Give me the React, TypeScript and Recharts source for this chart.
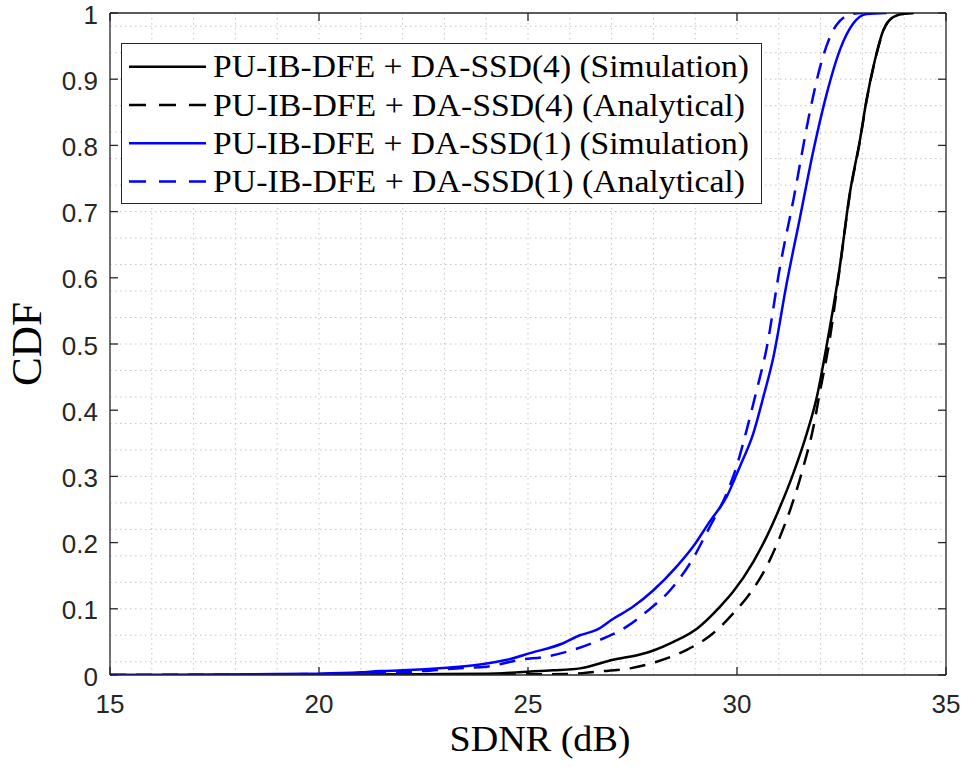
import { CartesianGrid, Label, Legend, Line, LineChart, ReferenceLine, XAxis, YAxis } from "recharts";

// DA-SSD(4), simulation (black solid)
const sim4X = [15, 18, 20, 22, 23, 24, 25, 25.6, 26.24, 27.04, 27.68, 28.0, 28.48, 29.04, 29.59, 29.91, 30.39, 30.71, 31.03, 31.35, 31.67, 31.91, 32.14, 32.46, 32.7, 32.94, 33.1, 33.3, 33.5, 33.74, 34.0, 34.22];
const sim4Y = [0, 0, 0.0005, 0.001, 0.0015, 0.002, 0.005, 0.007, 0.01, 0.023, 0.031, 0.037, 0.05, 0.07, 0.103, 0.126, 0.171, 0.209, 0.254, 0.305, 0.365, 0.42, 0.496, 0.617, 0.728, 0.808, 0.869, 0.929, 0.974, 0.994, 0.999, 1.0];

// DA-SSD(4), analytical (black dashed)
const ana4X = [15, 20, 22, 24, 25, 26.0, 26.64, 27.44, 28.08, 28.8, 29.43, 29.91, 30.31, 30.71, 31.03, 31.35, 31.59, 31.83, 31.99, 32.19, 32.46, 32.7, 32.94, 33.1, 33.3, 33.5, 33.74, 34.0, 34.22];
const ana4Y = [0, 0, 0.0002, 0.0005, 0.001, 0.0015, 0.005, 0.01, 0.02, 0.038, 0.063, 0.093, 0.123, 0.164, 0.209, 0.264, 0.315, 0.375, 0.43, 0.496, 0.615, 0.726, 0.806, 0.868, 0.928, 0.973, 0.994, 0.999, 1.0];

// DA-SSD(1), simulation (blue solid)
const sim1X = [15, 17, 19, 20, 21, 21.46, 22, 23.05, 23.85, 24.5, 25.05, 25.84, 26.24, 26.64, 27.04, 27.51, 28.0, 28.56, 28.95, 29.35, 29.75, 30.07, 30.39, 30.63, 30.87, 31.19, 31.51, 31.83, 32.15, 32.46, 32.78, 33.1, 33.58];
const sim1Y = [0, 0.0005, 0.0015, 0.002, 0.004, 0.006, 0.007, 0.011, 0.016, 0.023, 0.033, 0.048, 0.06, 0.068, 0.085, 0.103, 0.128, 0.164, 0.194, 0.232, 0.269, 0.315, 0.365, 0.42, 0.48, 0.592, 0.692, 0.793, 0.879, 0.944, 0.984, 0.9985, 1.0];

// DA-SSD(1), analytical (blue dashed)
const ana1X = [15, 17, 19, 20, 21, 21.46, 22.5, 23.29, 24.01, 24.81, 25.45, 26.08, 26.72, 27.36, 27.84, 28.4, 28.88, 29.35, 29.75, 29.99, 30.23, 30.47, 30.71, 31.03, 31.35, 31.75, 31.99, 32.38, 32.78, 33.0];
const ana1Y = [0, 0.0003, 0.001, 0.0015, 0.0025, 0.003, 0.006, 0.01, 0.0125, 0.023, 0.028, 0.038, 0.053, 0.073, 0.096, 0.128, 0.169, 0.224, 0.274, 0.315, 0.37, 0.43, 0.494, 0.617, 0.718, 0.853, 0.919, 0.982, 0.999, 1.0];

const xTicks = [15, 20, 25, 30, 35];
const yTicks = [0, 0.1, 0.2, 0.3, 0.4, 0.5, 0.6, 0.7, 0.8, 0.9, 1];
const yTickLabels = ["0", "0.1", "0.2", "0.3", "0.4", "0.5", "0.6", "0.7", "0.8", "0.9", "1"];

const legendLabels = [
  "PU-IB-DFE + DA-SSD(4) (Simulation)",
  "PU-IB-DFE + DA-SSD(4) (Analytical)",
  "PU-IB-DFE + DA-SSD(1) (Simulation)",
  "PU-IB-DFE + DA-SSD(1) (Analytical)",
];

const zip = (xs: number[], ys: number[]) => xs.map((x, i) => ({ x, y: ys[i] }));

const series = [
  { name: legendLabels[0], data: zip(sim4X, sim4Y), color: "#000000", dash: undefined as string | undefined },
  { name: legendLabels[1], data: zip(ana4X, ana4Y), color: "#000000", dash: "16 10" },
  { name: legendLabels[2], data: zip(sim1X, sim1Y), color: "#0000ff", dash: undefined },
  { name: legendLabels[3], data: zip(ana1X, ana1Y), color: "#0000ff", dash: "16 10" },
];

// grid every 1 dB and every 0.02
const gridX: number[] = [];
for (let v = 16; v < 35; v++) gridX.push(v);
const gridY: number[] = [];
for (let k = 1; k < 50; k++) gridY.push(k / 50);

const AXIS = "#262626";
const SERIF = "'Liberation Serif', 'DejaVu Serif', serif";
const SANS = "'Liberation Sans', Arial, sans-serif";
const TICK_X = 0.19; // ~8px in dB
const TICK_Y = 0.0121; // ~8px in CDF units

const XTick = (props: any) => (
  <text x={props.x} y={props.y + 18} textAnchor="middle" fontFamily={SANS} fontSize={26} fill={AXIS}>
    {props.payload.value}
  </text>
);

const YTick = (props: any) => (
  <text x={props.x} y={props.y + 10.5} textAnchor="end" fontFamily={SANS} fontSize={26} fill={AXIS}>
    {yTickLabels[yTicks.indexOf(props.payload.value)] ?? String(props.payload.value)}
  </text>
);

const renderLegend = () => (
  <svg width={641} height={161} style={{ display: "block" }}>
    <rect x={0.5} y={0.5} width={640} height={160} fill="#ffffff" stroke={AXIS} strokeWidth={1} />
    {series.map((s, i) => {
      const cy = 23.7 + i * 38.3;
      return (
        <g key={s.name}>
          <line x1={8} x2={85} y1={cy} y2={cy} stroke={s.color} strokeWidth={2.5} strokeDasharray={s.dash ? "17 13" : undefined} />
          <text
            x={92}
            y={cy + 10.5}
            fontFamily={SERIF}
            fontSize={30.5}
            fill="#000"
            textLength={i % 2 === 0 ? 536 : 532}
            lengthAdjust="spacingAndGlyphs"
          >
            {s.name}
          </text>
        </g>
      );
    })}
  </svg>
);

export default function App() {
  return (
    <div style={{ position: "absolute", left: 0, top: 0, width: 966, height: 767, background: "#fff" }}>
      <LineChart width={966} height={767} margin={{ top: 13, right: 20, bottom: 0, left: 0 }}>
        <CartesianGrid
          verticalValues={gridX}
          horizontalValues={gridY}
          stroke="#c6c6c6"
          strokeDasharray="1.5 3.5"
        />
        <XAxis
          type="number"
          dataKey="x"
          domain={[15, 35]}
          ticks={xTicks}
          allowDataOverflow
          height={92}
          tickLine={false}
          tickSize={8}
          tickMargin={12}
          axisLine={{ stroke: AXIS, strokeWidth: 1.3 }}
          tick={<XTick />}
        >
          <Label
            content={() => (
              <text x={540} y={751} textAnchor="middle" fontFamily={SERIF} fontSize={36} fill="#000" textLength={181} lengthAdjust="spacingAndGlyphs">
                SDNR (dB)
              </text>
            )}
          />
        </XAxis>
        <YAxis
          type="number"
          domain={[0, 1]}
          ticks={yTicks}
          allowDataOverflow
          width={110}
          tickLine={false}
          tickSize={4}
          tickMargin={8}
          axisLine={{ stroke: AXIS, strokeWidth: 1.3 }}
          tick={<YTick />}
        >
          <Label
            content={() => (
              <text x={41} y={344} transform="rotate(-90, 41, 344)" textAnchor="middle" fontFamily={SERIF} fontSize={43} fill="#000" textLength={84} lengthAdjust="spacingAndGlyphs">
                CDF
              </text>
            )}
          />
        </YAxis>

        {/* box and inward ticks */}
        <ReferenceLine y={1} stroke={AXIS} strokeWidth={1.3} />
        <ReferenceLine x={35} stroke={AXIS} strokeWidth={1.3} />
        {xTicks.map((t) => (
          <ReferenceLine key={`xb${t}`} segment={[{ x: t, y: 0 }, { x: t, y: TICK_Y }]} stroke={AXIS} strokeWidth={1.3} />
        ))}
        {xTicks.map((t) => (
          <ReferenceLine key={`xt${t}`} segment={[{ x: t, y: 1 }, { x: t, y: 1 - TICK_Y }]} stroke={AXIS} strokeWidth={1.3} />
        ))}
        {yTicks.map((t) => (
          <ReferenceLine key={`yl${t}`} segment={[{ x: 15, y: t }, { x: 15 + TICK_X, y: t }]} stroke={AXIS} strokeWidth={1.3} />
        ))}
        {yTicks.map((t) => (
          <ReferenceLine key={`yr${t}`} segment={[{ x: 35, y: t }, { x: 35 - TICK_X, y: t }]} stroke={AXIS} strokeWidth={1.3} />
        ))}

        {series.map((s) => (
          <Line
            key={s.name}
            data={s.data}
            dataKey="y"
            name={s.name}
            type="monotone"
            stroke={s.color}
            strokeWidth={2.5}
            strokeDasharray={s.dash}
            dot={false}
            activeDot={false}
            isAnimationActive={false}
          />
        ))}

        <Legend
          layout="vertical"
          align="center"
          verticalAlign="middle"
          content={renderLegend}
          wrapperStyle={{ position: "absolute", left: 121, top: 43, width: 641, height: 161 }}
        />
      </LineChart>
    </div>
  );
}
